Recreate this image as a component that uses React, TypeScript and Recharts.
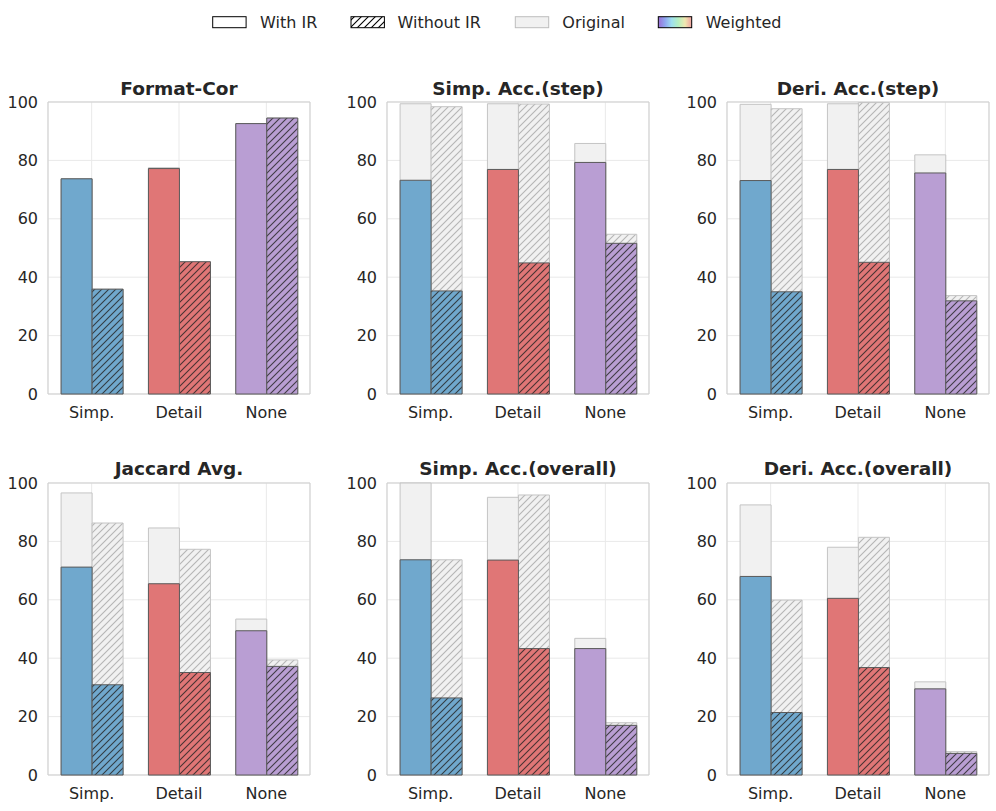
import React from "react"
import { BarChart, Bar, XAxis, YAxis, CartesianGrid, Cell, ReferenceArea } from "recharts"

const CATEGORIES = ["Simp.", "Detail", "None"]

const TITLES = [
  "Format-Cor",
  "Simp. Acc.(step)",
  "Deri. Acc.(step)",
  "Jaccard Avg.",
  "Simp. Acc.(overall)",
  "Deri. Acc.(overall)",
]

// one row per panel, one value per category (Simp., Detail, None)
const weightedWithIR = [
  [73.7, 77.2, 92.6],
  [73.2, 76.9, 79.3],
  [73.1, 76.9, 75.7],
  [71.2, 65.5, 49.4],
  [73.7, 73.6, 43.3],
  [68.0, 60.5, 29.5],
]

const weightedWithoutIR = [
  [35.9, 45.3, 94.5],
  [35.3, 44.9, 51.6],
  [35.0, 45.1, 31.9],
  [30.9, 35.1, 37.2],
  [26.4, 43.3, 17.0],
  [21.4, 36.8, 7.4],
]

const originalWithIR = [
  [73.7, 77.5, 92.6],
  [99.4, 99.4, 85.8],
  [99.2, 99.4, 81.9],
  [96.6, 84.6, 53.4],
  [100, 95.1, 46.8],
  [92.5, 78.0, 31.9],
]

const originalWithoutIR = [
  [35.9, 45.3, 94.5],
  [98.4, 99.3, 54.7],
  [97.7, 99.8, 33.7],
  [86.3, 77.3, 39.4],
  [73.7, 95.9, 17.9],
  [59.9, 81.4, 8.0],
]

const Y_TICKS = [0, 20, 40, 60, 80, 100]

const COLORS = ["#70a8cd", "#e07676", "#b99ed3"]
const FONT = "'DejaVu Sans', sans-serif"
const TEXT = "#262626"

const PLOT_W = 262
const PLOT_H = 292
const COL_LEFT = [48, 387, 727]
const ROW_TOP = [102, 483]

function hatch(id: string, fill: string, line: string, opacity: number) {
  return (
    <pattern key={id} id={id} patternUnits="userSpaceOnUse" width={7} height={7}>
      <rect width={7} height={7} fill={fill} />
      <path
        d="M-1,1 l2,-2 M0,7 l7,-7 M6,8 l2,-2"
        stroke={line}
        strokeOpacity={opacity}
        strokeWidth={1.1}
      />
    </pattern>
  )
}

function Panel({ index }: { index: number }) {
  const col = index % 3
  const row = Math.floor(index / 3)
  const data = CATEGORIES.map((cat, i) => ({
    cat,
    origWith: originalWithIR[index][i],
    origWithout: originalWithoutIR[index][i],
    wWith: weightedWithIR[index][i],
    wWithout: weightedWithoutIR[index][i],
  }))

  return (
    <div style={{ position: "absolute", left: COL_LEFT[col] - 50, top: ROW_TOP[row] - 10 }}>
      <BarChart
        width={PLOT_W + 60}
        height={PLOT_H + 50}
        data={data}
        margin={{ top: 10, right: 10, bottom: 0, left: 0 }}
        barCategoryGap="15%"
        barGap={0}
      >
        <defs>
          {hatch(`hg${index}`, "#f1f1f1", "#b5b5b5", 1)}
          {COLORS.map((c, i) => hatch(`hc${index}-${i}`, c, "#222222", 0.8))}
        </defs>
        <CartesianGrid xAxisId="main" stroke="#e9e9e9" />
        <XAxis xAxisId="orig" dataKey="cat" hide />
        <XAxis
          xAxisId="main"
          dataKey="cat"
          height={40}
          axisLine={false}
          tickLine={false}
          tickSize={0}
          tickMargin={13}
          tick={{ fill: TEXT, fontSize: 16, fontFamily: FONT }}
        />
        <YAxis
          domain={[0, 100]}
          ticks={Y_TICKS}
          width={50}
          axisLine={false}
          tickLine={false}
          tickSize={0}
          tickMargin={10}
          tick={{ fill: TEXT, fontSize: 16, fontFamily: FONT }}
        />
        <Bar
          xAxisId="orig"
          dataKey="origWith"
          fill="#f1f1f1"
          stroke="#c4c4c4"
          strokeWidth={1}
          isAnimationActive={false}
        />
        <Bar
          xAxisId="orig"
          dataKey="origWithout"
          fill={`url(#hg${index})`}
          stroke="#c4c4c4"
          strokeWidth={1}
          isAnimationActive={false}
        />
        <Bar xAxisId="main" dataKey="wWith" stroke="#5a5a5a" strokeWidth={1} isAnimationActive={false}>
          {data.map((_, i) => (
            <Cell key={`w-${i}`} fill={COLORS[i]} />
          ))}
        </Bar>
        <Bar xAxisId="main" dataKey="wWithout" stroke="#5a5a5a" strokeWidth={1} isAnimationActive={false}>
          {data.map((_, i) => (
            <Cell key={`wo-${i}`} fill={`url(#hc${index}-${i})`} />
          ))}
        </Bar>
        <ReferenceArea
          xAxisId="main"
          y1={0}
          y2={100}
          fill="none"
          fillOpacity={0}
          stroke="#cfcfcf"
          strokeWidth={1}
          ifOverflow="visible"
        />
      </BarChart>
    </div>
  )
}

function Overlay() {
  const legendText = { fontFamily: FONT, fontSize: 16, fill: TEXT }
  return (
    <svg
      width={996}
      height={811}
      style={{ position: "absolute", left: 0, top: 0, pointerEvents: "none" }}
    >
      <defs>
        {hatch("legendHatch", "#ffffff", "#000000", 1)}
        <linearGradient id="rainbow" x1="0" x2="1" y1="0" y2="0">
          <stop offset="0%" stopColor="#9b6fd6" />
          <stop offset="20%" stopColor="#8fa6f0" />
          <stop offset="40%" stopColor="#9fe0ef" />
          <stop offset="60%" stopColor="#b5f0c0" />
          <stop offset="80%" stopColor="#f0e8b0" />
          <stop offset="100%" stopColor="#f0a0a0" />
        </linearGradient>
      </defs>
      <rect x={212.7} y={16.7} width={33.4} height={11} fill="#ffffff" stroke="#000000" strokeWidth={1} />
      <text x={260} y={28.3} {...legendText}>With IR</text>
      <rect x={351} y={16.7} width={33.4} height={11} fill="url(#legendHatch)" stroke="#000000" strokeWidth={1} />
      <text x={397.5} y={28.3} {...legendText}>Without IR</text>
      <rect x={515.3} y={16.7} width={33.4} height={11} fill="#f1f1f1" stroke="#bdbdbd" strokeWidth={1} />
      <text x={562.3} y={28.3} {...legendText}>Original</text>
      <rect x={658.3} y={16.7} width={33.4} height={11} fill="url(#rainbow)" stroke="#000000" strokeWidth={1} />
      <text x={705.7} y={28.3} {...legendText}>Weighted</text>

      {TITLES.map((t, i) => (
        <text
          key={t}
          x={COL_LEFT[i % 3] + PLOT_W / 2}
          y={i < 3 ? 95 : 475}
          textAnchor="middle"
          fontFamily={FONT}
          fontSize={18.5}
          fontWeight="bold"
          fill={TEXT}
        >
          {t}
        </text>
      ))}
    </svg>
  )
}

export default function App() {
  return (
    <div style={{ position: "absolute", left: 0, top: 0, width: 996, height: 811, background: "#ffffff" }}>
      {TITLES.map((t, i) => (
        <Panel key={t} index={i} />
      ))}
      <Overlay />
    </div>
  )
}
